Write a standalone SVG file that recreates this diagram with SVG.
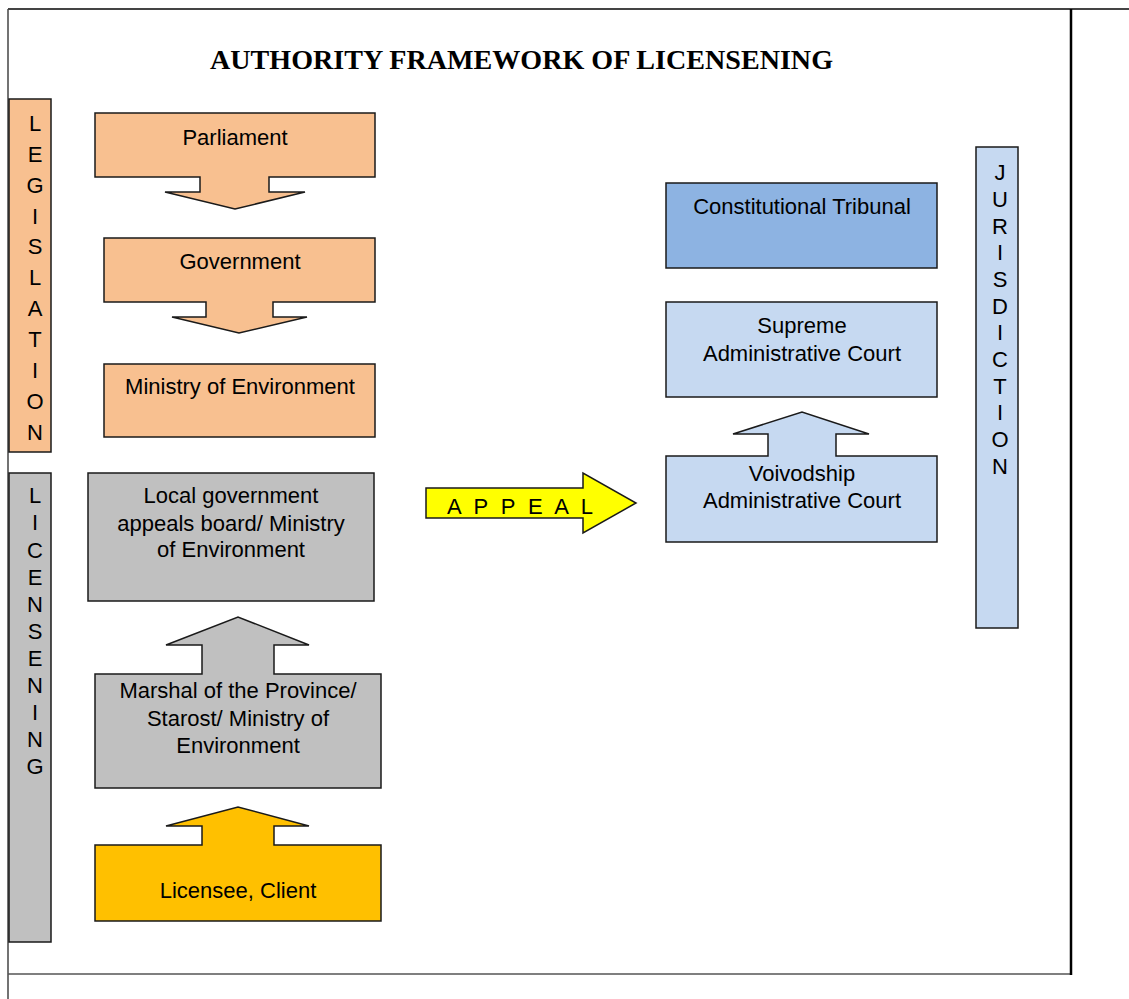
<svg xmlns="http://www.w3.org/2000/svg" width="1129" height="999" viewBox="0 0 1129 999">
<style>
.t{font-family:"Liberation Sans",Arial,sans-serif;font-size:22px;fill:#000;text-anchor:middle}
.v{font-family:"Liberation Sans",Arial,sans-serif;font-size:22px;fill:#000;text-anchor:middle}
.s{stroke:#1a1a1a;stroke-width:1.5}
.peach{fill:#F8C090}
.gray{fill:#C0C0C0}
.gold{fill:#FFC000}
.blue{fill:#8DB3E2}
.lblue{fill:#C6D9F1}
</style>
<rect width="1129" height="999" fill="#fff"/>
<g id="frame">
<line x1="8" y1="9" x2="1129" y2="9" stroke="#444" stroke-width="2"/>
<line x1="8" y1="9" x2="8" y2="999" stroke="#444" stroke-width="1.5"/>
<line x1="8" y1="974" x2="1071" y2="974" stroke="#555" stroke-width="1.5"/>
<line x1="1071" y1="9" x2="1071" y2="975" stroke="#000" stroke-width="2.5"/>
</g>
<text x="521.5" y="69" font-family="'Liberation Serif','Times New Roman',serif" font-weight="bold" font-size="28" text-anchor="middle" textLength="623" lengthAdjust="spacingAndGlyphs">AUTHORITY FRAMEWORK OF LICENSENING</text>

<g id="legislation">
<rect x="9" y="99" width="42" height="353" class="peach s"/>
<g class="v">
<text x="35" y="131">L</text><text x="35" y="162">E</text><text x="35" y="193">G</text><text x="35" y="224">I</text><text x="35" y="254">S</text><text x="35" y="285">L</text><text x="35" y="316">A</text><text x="35" y="347">T</text><text x="35" y="378">I</text><text x="35" y="409">O</text><text x="35" y="440">N</text>
</g>
</g>
<g id="licensening">
<rect x="9" y="473" width="42" height="469" class="gray s"/>
<g class="v">
<text x="35" y="503">L</text><text x="35" y="530">I</text><text x="35" y="558">C</text><text x="35" y="585">E</text><text x="35" y="612">N</text><text x="35" y="639">S</text><text x="35" y="666">E</text><text x="35" y="693">N</text><text x="35" y="720">I</text><text x="35" y="747">N</text><text x="35" y="774">G</text>
</g>
</g>
<g id="jurisdiction">
<rect x="976" y="147" width="42" height="481" class="lblue s"/>
<g class="v">
<text x="1000" y="180">J</text><text x="1000" y="207">U</text><text x="1000" y="234">R</text><text x="1000" y="260">I</text><text x="1000" y="287">S</text><text x="1000" y="314">D</text><text x="1000" y="340">I</text><text x="1000" y="367">C</text><text x="1000" y="394">T</text><text x="1000" y="420">I</text><text x="1000" y="447">O</text><text x="1000" y="474">N</text>
</g>
</g>

<g id="connectors">
<path d="M426,488 H583 V473 L636,503 L583,533 V518 H426 Z" fill="#FFFF00" class="s"/>
<text x="447" y="514" font-family="'Liberation Sans',Arial,sans-serif" font-size="22" textLength="146" lengthAdjust="spacing">A P P E A L</text>
</g>

<g id="parliament">
<path d="M95,113 H375 V177 H269 V192 H305 L235,209 L165,192 H200 V177 H95 Z" class="peach s"/>
<text x="235" y="145" class="t">Parliament</text>
</g>
<g id="government">
<path d="M104,238 H375 V302 H273 V317 H307 L239,333 L172,317 H206 V302 H104 Z" class="peach s"/>
<text x="240" y="269" class="t">Government</text>
</g>
<g id="ministry">
<rect x="104" y="364" width="271" height="73" class="peach s"/>
<text x="240" y="394" class="t">Ministry of Environment</text>
</g>
<g id="appeals-board">
<rect x="88" y="473" width="286" height="128" class="gray s"/>
<text class="t"><tspan x="231" y="503">Local government</tspan><tspan x="231" y="531">appeals board/ Ministry</tspan><tspan x="231" y="557">of Environment</tspan></text>
</g>
<g id="marshal">
<path d="M95,674 H202 V645 H166 L238,617 L309,645 H274 V674 H381 V788 H95 Z" class="gray s"/>
<text class="t"><tspan x="238" y="698">Marshal of the Province/</tspan><tspan x="238" y="726">Starost/ Ministry of</tspan><tspan x="238" y="753">Environment</tspan></text>
</g>
<g id="licensee">
<path d="M95,845 H202 V826 H166 L238,807 L309,826 H274 V845 H381 V921 H95 Z" class="gold s"/>
<text x="238" y="898" class="t">Licensee, Client</text>
</g>
<g id="constitutional">
<rect x="666" y="183" width="271" height="85" class="blue s"/>
<text x="802" y="214" class="t">Constitutional Tribunal</text>
</g>
<g id="supreme">
<rect x="666" y="302" width="271" height="95" class="lblue s"/>
<text class="t"><tspan x="802" y="333">Supreme</tspan><tspan x="802" y="361">Administrative Court</tspan></text>
</g>
<g id="voivodship">
<path d="M666,456 H768 V434 H733 L802,412 L869,434 H836 V456 H937 V542 H666 Z" class="lblue s"/>
<text class="t"><tspan x="802" y="481">Voivodship</tspan><tspan x="802" y="508">Administrative Court</tspan></text>
</g>
</svg>
